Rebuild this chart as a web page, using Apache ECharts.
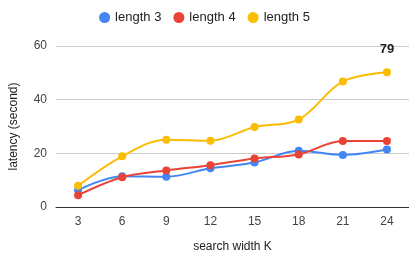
<!DOCTYPE html>
<html>
<head>
<meta charset="utf-8">
<script src="https://cdn.jsdelivr.net/npm/echarts@6/dist/echarts.min.js"></script>
<style>
  html, body { margin: 0; padding: 0; background: #fff; }
  #chart { width: 409px; height: 258px; }
</style>
</head>
<body>
<div id="chart"></div>
<script>
const categories = ["3", "6", "9", "12", "15", "18", "21", "24"];
const seriesNames = ["length 3", "length 4", "length 5"];
const length3 = [6.3, 11.5, 11.3, 14.4, 16.6, 21.0, 19.4, 21.4];
const length4 = [4.4, 11.1, 13.6, 15.6, 18.1, 19.6, 24.6, 24.6];
const length5 = [7.9, 18.9, 25.1, 24.7, 29.8, 32.6, 46.8, 50.2];
const yTicks = [0, 20, 40, 60];
const noteText = "79"; // annotation on last point of length 5

let chartDom = document.getElementById("chart");
let myChart = echarts.init(chartDom);
const colors = ["#4285F4", "#EA4335", "#FBBC04"];
const font = "Liberation Sans, Arial, sans-serif";

function makeSeries(name, values, color, withNote) {
  const data = values.map((v, i) => {
    if (withNote && i === values.length - 1) {
      return {
        value: v,
        label: {
          show: true,
          position: "top",
          distance: 12,
          formatter: noteText,
          fontFamily: font,
          fontSize: 13,
          fontWeight: "bold",
          color: "#222",
        },
      };
    }
    return v;
  });
  return {
    name: name,
    type: "line",
    smooth: 0.35,
    data: data,
    symbol: "circle",
    symbolSize: 8,
    showAllSymbol: true,
    lineStyle: { color: color, width: 2 },
    itemStyle: { color: color },
    emphasis: { disabled: true },
  };
}

const options = {
  animation: false,
  color: colors,
  legend: {
    top: 6,
    left: "center",
    icon: "circle",
    itemWidth: 11,
    itemHeight: 11,
    itemGap: 12,
    textStyle: { fontFamily: font, fontSize: 13, color: "#222" },
    data: seriesNames,
  },
  grid: {
    left: 55,
    right: 0,
    top: 46,
    bottom: 51,
  },
  xAxis: {
    type: "category",
    data: categories,
    boundaryGap: true,
    name: "search width K",
    nameLocation: "middle",
    nameGap: 34,
    nameTextStyle: { fontFamily: font, fontSize: 12, color: "#222" },
    axisLine: { lineStyle: { color: "#333", width: 1 } },
    axisTick: { show: false },
    axisLabel: { fontFamily: font, fontSize: 12, color: "#444", margin: 9 },
  },
  yAxis: {
    type: "value",
    min: yTicks[0],
    max: yTicks[yTicks.length - 1],
    interval: 20,
    name: "latency (second)",
    nameLocation: "middle",
    nameGap: 36,
    nameTextStyle: { fontFamily: font, fontSize: 12, color: "#222" },
    axisLine: { show: false },
    axisTick: { show: false },
    axisLabel: { fontFamily: font, fontSize: 12, color: "#444", margin: 9 },
    splitLine: { lineStyle: { color: "#ccc", width: 1 } },
  },
  series: [
    makeSeries(seriesNames[0], length3, colors[0], false),
    makeSeries(seriesNames[1], length4, colors[1], false),
    makeSeries(seriesNames[2], length5, colors[2], true),
  ],
};
myChart.setOption(options);
</script>
</body>
</html>
